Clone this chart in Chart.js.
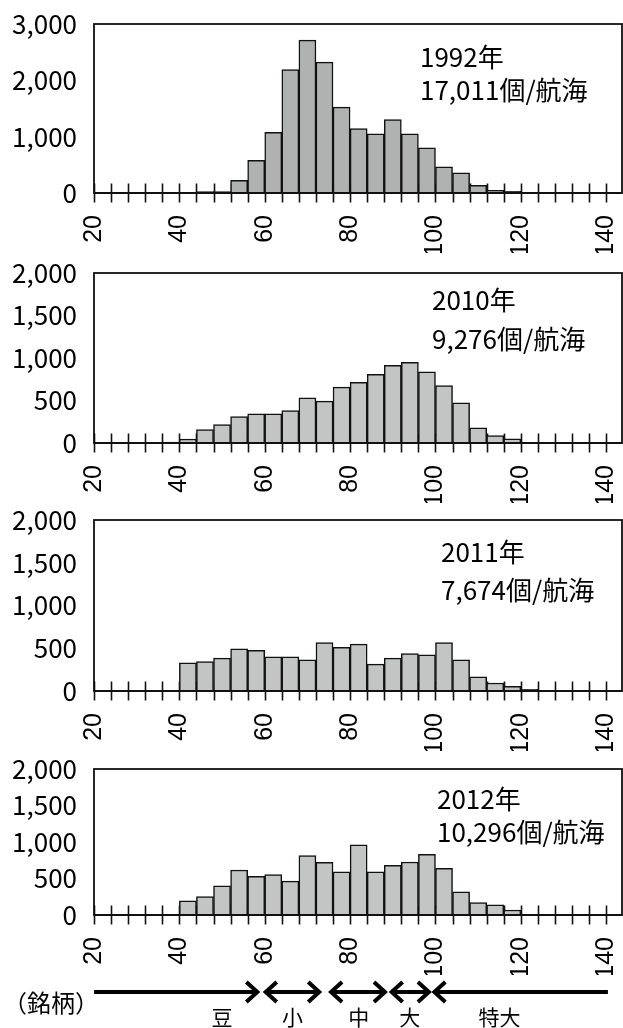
<!DOCTYPE html>
<html>
<head>
<meta charset="utf-8">
<script src="https://cdn.jsdelivr.net/npm/chart.js@4.4.1/dist/chart.umd.min.js"></script>
<style>
  html, body { margin: 0; padding: 0; background: #fff; }
  #wrap { position: relative; width: 623px; height: 1028px; overflow: hidden; }
  #wrap canvas { position: absolute; left: 0; }
</style>
</head>
<body>
<div id="wrap">
  <canvas id="c1992" width="623" height="253" style="top:0px"></canvas>
  <canvas id="c2010" width="623" height="253" style="top:250px"></canvas>
  <canvas id="c2011" width="623" height="254" style="top:497px"></canvas>
  <canvas id="c2012" width="623" height="282" style="top:746px"></canvas>
</div>
<script>
// Size classes: lower edge of each 4 mm bin (also the tick positions)
const binStarts = [20, 24, 28, 32, 36, 40, 44, 48, 52, 56, 60, 64, 68, 72, 76, 80,
                   84, 88, 92, 96, 100, 104, 108, 112, 116, 120, 124, 128, 132, 136, 140];
// Labelled positions on the length axis
const xLabelValues = [20, 40, 60, 80, 100, 120, 140];

// Counts per bin (per voyage)
const counts1992 = [0, 0, 0, 0, 0, 0, 25, 25, 225, 581, 1079, 2193, 2715, 2324, 1523, 1144,
                    1049, 1304, 1049, 800, 465, 358, 136, 47, 30, 0, 0, 0, 0, 0, 0];
const counts2010 = [0, 0, 0, 0, 12, 47, 157, 217, 311, 343, 343, 382, 531, 492, 657, 713,
                    807, 913, 950, 838, 675, 474, 179, 88, 50, 0, 0, 0, 0, 0, 0];
const counts2011 = [0, 0, 0, 0, 0, 329, 345, 384, 494, 475, 400, 400, 365, 565, 510, 549,
                    314, 384, 439, 424, 565, 365, 165, 94, 55, 20, 0, 0, 0, 0, 0];
const counts2012 = [0, 0, 0, 0, 0, 193, 253, 400, 616, 529, 552, 464, 814, 722, 593, 961,
                    593, 680, 726, 832, 639, 317, 170, 138, 69, 0, 0, 0, 0, 0, 0];

// Panel captions
const yearLabels = ['1992年', '2010年', '2011年', '2012年'];
const totalLabels = ['17,011個/航海', '9,276個/航海', '7,674個/航海', '10,296個/航海'];

// Y axis ranges
const yMax = [3000, 2000, 2000, 2000];
const yStep = [1000, 500, 500, 500];

// Grade bands along the length axis (銘柄)
const gradeNames = ['豆', '小', '中', '大', '特大'];
const gradeFrom = [20, 60, 75.3, 89.5, 99.5];
const gradeTo = [58.5, 73, 88.4, 98.7, 140.4];
const gradeHeadStart = [false, true, true, true, true];
const gradeHeadEnd = [true, true, true, true, false];
const gradeLabelAt = [50, 66.5, 82, 94, 115];

const X_MIN = 20, X_MAX = 143.7;

// Tick crosses on the zero line, drawn under the bars
const tickCross = {
  id: 'tickCross',
  beforeDatasetsDraw(chart) {
    const ctx = chart.ctx, xs = chart.scales.x, ys = chart.scales.y;
    const y0 = ys.getPixelForValue(0);
    ctx.save();
    ctx.strokeStyle = '#111';
    ctx.lineWidth = 1.6;
    binStarts.forEach(v => {
      const x = Math.round(xs.getPixelForValue(v)) + 0.5;
      ctx.beginPath();
      ctx.moveTo(x, y0 - 9.5);
      ctx.lineTo(x, y0 + 9.5);
      ctx.stroke();
    });
    ctx.restore();
  }
};

// Plot frame + zero line over the bars
const frame = {
  id: 'frame',
  afterDatasetsDraw(chart) {
    const ctx = chart.ctx, a = chart.chartArea;
    const y0 = chart.scales.y.getPixelForValue(0);
    ctx.save();
    ctx.strokeStyle = '#111';
    ctx.lineWidth = 1.8;
    ctx.strokeRect(a.left, a.top, a.right - a.left, y0 - a.top);
    ctx.beginPath();
    ctx.moveTo(a.left, y0);
    ctx.lineTo(a.right, y0);
    ctx.stroke();
    ctx.restore();
  }
};

// Year / total caption inside each panel
const caption = {
  id: 'caption',
  afterDraw(chart, args, opts) {
    const ctx = chart.ctx, a = chart.chartArea;
    ctx.save();
    ctx.fillStyle = '#000';
    ctx.font = '26px "Noto Sans CJK JP"';
    ctx.textAlign = 'left';
    ctx.textBaseline = 'alphabetic';
    ctx.fillText(opts.year, opts.x, a.top + opts.y1);
    ctx.fillText(opts.total, opts.x, a.top + opts.y2);
    ctx.restore();
  }
};

// Grade arrows under the last panel
const grades = {
  id: 'grades',
  afterDraw(chart, args, opts) {
    if (!opts.show) return;
    const ctx = chart.ctx, xs = chart.scales.x;
    const y = chart.chartArea.bottom + 77;
    ctx.save();
    ctx.strokeStyle = '#000';
    ctx.fillStyle = '#000';
    ctx.lineWidth = 4;
    ctx.lineJoin = 'miter';
    ctx.lineCap = 'butt';
    const hl = 12, hw = 10;
    gradeNames.forEach((name, i) => {
      const x1 = xs.getPixelForValue(gradeFrom[i]);
      const x2 = xs.getPixelForValue(gradeTo[i]);
      ctx.beginPath();
      ctx.moveTo(gradeHeadStart[i] ? x1 + 2 : x1, y);
      ctx.lineTo(gradeHeadEnd[i] ? x2 - 2 : x2, y);
      ctx.stroke();
      if (gradeHeadEnd[i]) {
        ctx.beginPath();
        ctx.moveTo(x2 - hl, y - hw);
        ctx.lineTo(x2 - 1, y);
        ctx.lineTo(x2 - hl, y + hw);
        ctx.stroke();
      }
      if (gradeHeadStart[i]) {
        ctx.beginPath();
        ctx.moveTo(x1 + hl, y - hw);
        ctx.lineTo(x1 + 1, y);
        ctx.lineTo(x1 + hl, y + hw);
        ctx.stroke();
      }
      ctx.font = '21px "Noto Sans CJK JP"';
      ctx.textAlign = 'center';
      ctx.textBaseline = 'middle';
      ctx.fillText(name, xs.getPixelForValue(gradeLabelAt[i]), y + 25);
    });
    ctx.font = '24px "Noto Sans CJK JP"';
    ctx.textAlign = 'left';
    ctx.textBaseline = 'middle';
    ctx.fillText('（銘柄）', 3, y + 11);
    ctx.restore();
  }
};

function makePanel(id, counts, idx, fill, padTop, padBottom, cap, showGrades) {
  const points = binStarts.map((b, i) => ({ x: b + 2, y: counts[i] > 0 ? counts[i] : null }));
  return new Chart(document.getElementById(id), {
    type: 'bar',
    data: {
      datasets: [{
        data: points,
        backgroundColor: fill,
        borderColor: '#111',
        borderWidth: 1.5,
        barPercentage: 1,
        categoryPercentage: 1
      }]
    },
    options: {
      responsive: false,
      devicePixelRatio: 1,
      animation: false,
      layout: { padding: { top: padTop, right: 1, bottom: padBottom, left: 0 } },
      plugins: {
        legend: { display: false },
        tooltip: { enabled: false },
        caption: cap,
        grades: { show: showGrades }
      },
      scales: {
        x: {
          type: 'linear',
          min: X_MIN,
          max: X_MAX,
          offset: false,
          grid: { display: false, drawTicks: false, offset: false },
          border: { display: false },
          ticks: {
            autoSkip: false,
            minRotation: 90,
            maxRotation: 90,
            padding: 22,
            color: '#000',
            font: { family: '"Liberation Sans", Arial, sans-serif', size: 25 },
            callback: v => String(v)
          },
          afterBuildTicks(s) { s.ticks = xLabelValues.map(v => ({ value: v })); },
          afterFit(s) { s.height = 60; s.paddingLeft = 0; s.paddingRight = 0; }
        },
        y: {
          min: 0,
          max: yMax[idx],
          grid: { display: false, drawTicks: false },
          border: { display: false },
          ticks: {
            stepSize: yStep[idx],
            padding: 17,
            color: '#000',
            font: { family: '"Noto Sans CJK JP", sans-serif', size: 26 },
            callback: v => Number(v).toLocaleString('en-US')
          },
          afterFit(s) { s.width = 94; s.paddingTop = 0; s.paddingBottom = 0; }
        }
      }
    },
    plugins: [tickCross, frame, caption, grades]
  });
}

makePanel('c1992', counts1992, 0, '#b0b2b1', 24, 0,
  { year: yearLabels[0], total: totalLabels[0], x: 420, y1: 43, y2: 76 }, false);
makePanel('c2010', counts2010, 1, '#c3c5c4', 23, 0,
  { year: yearLabels[1], total: totalLabels[1], x: 432, y1: 37, y2: 76 }, false);
makePanel('c2011', counts2011, 2, '#c3c5c4', 23, 0,
  { year: yearLabels[2], total: totalLabels[2], x: 441, y1: 42, y2: 80 }, false);
makePanel('c2012', counts2012, 3, '#c3c5c4', 23, 53,
  { year: yearLabels[3], total: totalLabels[3], x: 437, y1: 40, y2: 73 }, true);
</script>
</body>
</html>
